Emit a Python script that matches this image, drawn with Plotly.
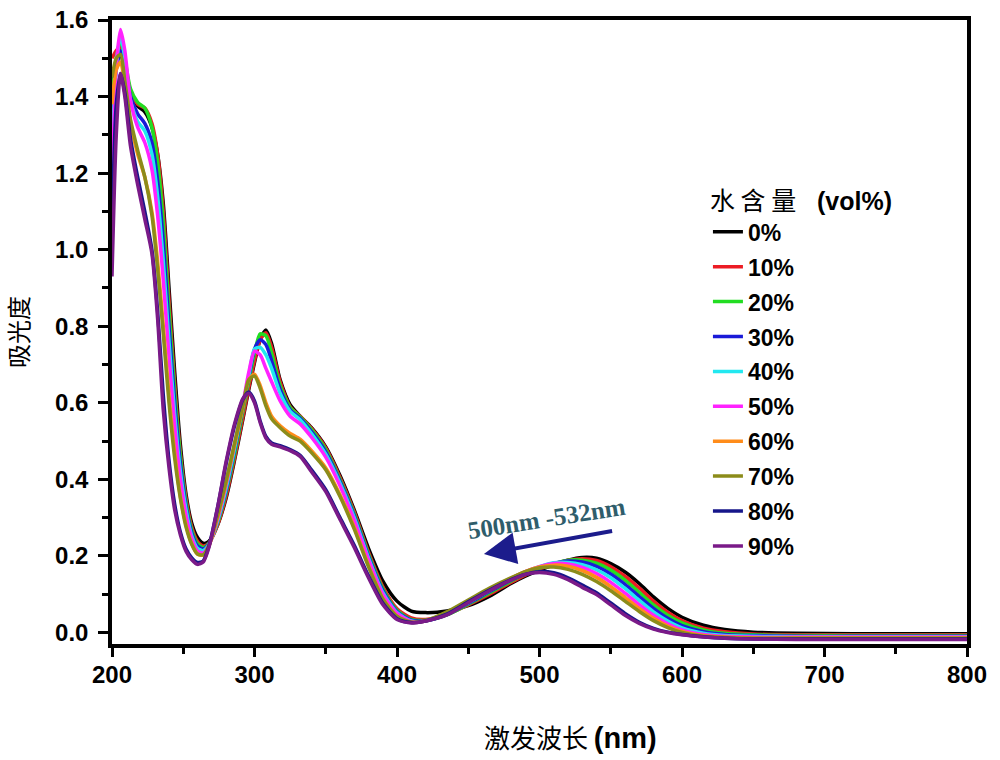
import plotly.graph_objects as go

# Wavelength grid (nm)
wavelength = [200, 203, 206, 209, 213, 218, 223, 228, 232, 236,
              240, 244, 248, 252, 256, 260, 264, 268, 274, 280,
              286, 292, 296, 300, 304, 308, 312, 318, 325, 332,
              340, 350, 360, 370, 380, 390, 400, 410, 420, 435,
              450, 465, 480, 490, 500, 510, 520, 530, 540, 550,
              560, 570, 580, 590, 600, 615, 630, 650, 680, 720,
              760, 800]

series_labels = ["0%", "10%", "20%", "30%", "40%", "50%", "60%", "70%", "80%", "90%"]

abs_0 = [1.42, 1.49, 1.51, 1.47, 1.41, 1.375, 1.36, 1.32, 1.25, 1.12,
         0.90, 0.68, 0.49, 0.36, 0.285, 0.248, 0.233, 0.238, 0.28, 0.35,
         0.45, 0.56, 0.635, 0.705, 0.765, 0.79, 0.755, 0.66, 0.595, 0.565,
         0.535, 0.485, 0.41, 0.32, 0.22, 0.135, 0.082, 0.056, 0.052, 0.056,
         0.07, 0.095, 0.128, 0.147, 0.163, 0.177, 0.189, 0.196, 0.194, 0.18,
         0.158, 0.128, 0.093, 0.063, 0.04, 0.019, 0.008, 0.001, -0.002, -0.003,
         -0.003, -0.003]
abs_10 = [1.50, 1.52, 1.53, 1.48, 1.415, 1.38, 1.37, 1.33, 1.25, 1.10,
          0.87, 0.65, 0.47, 0.35, 0.275, 0.238, 0.226, 0.234, 0.28, 0.355,
          0.455, 0.565, 0.64, 0.71, 0.765, 0.783, 0.745, 0.655, 0.59, 0.565,
          0.533, 0.482, 0.405, 0.315, 0.21, 0.12, 0.062, 0.038, 0.034, 0.047,
          0.072, 0.1, 0.131, 0.15, 0.166, 0.179, 0.189, 0.193, 0.188, 0.172,
          0.147, 0.116, 0.082, 0.053, 0.031, 0.011, 0.002, -0.004, -0.006, -0.006,
          -0.006, -0.006]
abs_20 = [1.40, 1.50, 1.55, 1.50, 1.42, 1.385, 1.37, 1.32, 1.23, 1.07,
          0.84, 0.63, 0.46, 0.34, 0.268, 0.232, 0.222, 0.233, 0.285, 0.365,
          0.465, 0.58, 0.655, 0.73, 0.78, 0.775, 0.73, 0.645, 0.588, 0.563,
          0.53, 0.478, 0.4, 0.31, 0.205, 0.115, 0.058, 0.034, 0.032, 0.046,
          0.074, 0.104, 0.134, 0.153, 0.168, 0.18, 0.189, 0.189, 0.181, 0.163,
          0.137, 0.105, 0.072, 0.045, 0.025, 0.007, -0.002, -0.006, -0.008, -0.008,
          -0.008, -0.008]
abs_30 = [1.32, 1.47, 1.52, 1.48, 1.40, 1.355, 1.33, 1.28, 1.18, 1.02,
          0.80, 0.60, 0.44, 0.33, 0.26, 0.226, 0.218, 0.232, 0.29, 0.37,
          0.475, 0.59, 0.665, 0.74, 0.765, 0.752, 0.71, 0.635, 0.582, 0.56,
          0.525, 0.472, 0.395, 0.305, 0.2, 0.11, 0.055, 0.032, 0.031, 0.047,
          0.076, 0.107, 0.137, 0.156, 0.17, 0.181, 0.187, 0.184, 0.173, 0.153,
          0.126, 0.094, 0.063, 0.037, 0.018, 0.002, -0.005, -0.008, -0.01, -0.01,
          -0.01, -0.01]
abs_40 = [1.25, 1.48, 1.56, 1.50, 1.39, 1.335, 1.31, 1.25, 1.14, 0.97,
          0.76, 0.57, 0.42, 0.32, 0.252, 0.22, 0.214, 0.23, 0.29, 0.375,
          0.48, 0.595, 0.67, 0.74, 0.745, 0.725, 0.69, 0.625, 0.578, 0.556,
          0.52, 0.466, 0.39, 0.3, 0.195, 0.105, 0.052, 0.03, 0.03, 0.048,
          0.078, 0.11, 0.14, 0.158, 0.172, 0.182, 0.183, 0.177, 0.164, 0.143,
          0.115, 0.084, 0.054, 0.03, 0.012, -0.002, -0.008, -0.01, -0.011, -0.011,
          -0.011, -0.011]
abs_50 = [1.15, 1.48, 1.575, 1.52, 1.39, 1.32, 1.28, 1.21, 1.09, 0.92,
          0.72, 0.54, 0.40, 0.305, 0.245, 0.213, 0.208, 0.228, 0.295, 0.385,
          0.49, 0.6, 0.68, 0.735, 0.725, 0.69, 0.655, 0.605, 0.565, 0.545,
          0.51, 0.458, 0.383, 0.293, 0.19, 0.1, 0.05, 0.029, 0.03, 0.05,
          0.08, 0.112, 0.141, 0.159, 0.172, 0.18, 0.179, 0.17, 0.154, 0.131,
          0.103, 0.073, 0.045, 0.023, 0.007, -0.005, -0.01, -0.012, -0.012, -0.012,
          -0.012, -0.012]
abs_60 = [1.38, 1.47, 1.49, 1.43, 1.33, 1.25, 1.19, 1.10, 0.97, 0.80,
          0.62, 0.47, 0.355, 0.28, 0.232, 0.205, 0.202, 0.225, 0.30, 0.39,
          0.49, 0.59, 0.66, 0.675, 0.645, 0.60, 0.565, 0.54, 0.52, 0.505,
          0.475, 0.43, 0.36, 0.275, 0.175, 0.09, 0.043, 0.027, 0.03, 0.052,
          0.082, 0.114, 0.142, 0.159, 0.171, 0.176, 0.173, 0.162, 0.144, 0.12,
          0.092, 0.063, 0.037, 0.017, 0.003, -0.008, -0.012, -0.014, -0.014, -0.014,
          -0.014, -0.014]
abs_70 = [1.45, 1.50, 1.51, 1.44, 1.34, 1.26, 1.19, 1.09, 0.95, 0.78,
          0.60, 0.455, 0.35, 0.275, 0.23, 0.205, 0.203, 0.228, 0.305, 0.395,
          0.495, 0.595, 0.66, 0.67, 0.638, 0.592, 0.558, 0.535, 0.513, 0.50,
          0.47, 0.425, 0.355, 0.27, 0.172, 0.088, 0.042, 0.027, 0.031, 0.054,
          0.085, 0.116, 0.143, 0.159, 0.169, 0.171, 0.165, 0.152, 0.133, 0.109,
          0.082, 0.055, 0.031, 0.013, 0.0, -0.01, -0.013, -0.015, -0.015, -0.015,
          -0.015, -0.015]
abs_80 = [1.05, 1.38, 1.46, 1.41, 1.29, 1.19, 1.10, 1.00, 0.84, 0.62,
          0.45, 0.335, 0.262, 0.218, 0.195, 0.183, 0.187, 0.225, 0.325, 0.44,
          0.54, 0.61, 0.628, 0.605, 0.552, 0.512, 0.495, 0.488, 0.478, 0.463,
          0.425, 0.373, 0.3, 0.228, 0.148, 0.077, 0.036, 0.026, 0.03, 0.048,
          0.08, 0.111, 0.138, 0.152, 0.159, 0.156, 0.143, 0.124, 0.104, 0.077,
          0.05, 0.027, 0.011, 0.001, -0.005, -0.011, -0.015, -0.017, -0.017, -0.017,
          -0.017, -0.017]
abs_90 = [0.93, 1.30, 1.46, 1.40, 1.27, 1.17, 1.08, 0.99, 0.82, 0.58,
          0.43, 0.32, 0.255, 0.212, 0.19, 0.178, 0.184, 0.222, 0.325, 0.445,
          0.545, 0.612, 0.625, 0.60, 0.548, 0.508, 0.492, 0.485, 0.475, 0.46,
          0.42, 0.368, 0.295, 0.222, 0.143, 0.073, 0.034, 0.025, 0.03, 0.046,
          0.078, 0.109, 0.137, 0.152, 0.157, 0.152, 0.138, 0.118, 0.099, 0.072,
          0.045, 0.024, 0.009, 0.0, -0.006, -0.012, -0.015, -0.017, -0.018, -0.018,
          -0.018, -0.018]

all_series = [abs_0, abs_10, abs_20, abs_30, abs_40, abs_50, abs_60, abs_70, abs_80, abs_90]
colors = ["#000000", "#ec1c24", "#22dd22", "#1a1ad8", "#22e8f0",
          "#ff22ff", "#ff8c1a", "#8c8c1a", "#16168a", "#7a1a88"]

x_ticks = [200, 300, 400, 500, 600, 700, 800]
y_ticks = [0.0, 0.2, 0.4, 0.6, 0.8, 1.0, 1.2, 1.4, 1.6]

fig = go.Figure()
for lab, ys, col in zip(series_labels, all_series, colors):
    fig.add_trace(go.Scatter(
        x=wavelength, y=ys, mode="lines", name=lab, legendgroup=lab,
        line=dict(color=col, width=3.5, shape="spline", smoothing=0.7),
    ))

tick_font = dict(family="Liberation Sans, Arial, sans-serif", size=24, color="black", weight="bold")
cjk = "Noto Sans CJK SC"

fig.update_layout(
    width=1000, height=760,
    margin=dict(l=112, r=33, t=20, b=116, autoexpand=False),
    paper_bgcolor="white", plot_bgcolor="white",
    showlegend=True,
    legend=dict(
        x=0.697, y=0.747, xanchor="left", yanchor="top",
        bgcolor="rgba(0,0,0,0)",
        font=dict(family="Liberation Sans, Arial, sans-serif", size=23, color="black", weight="bold"),
        title=dict(text="<span style='font-family:Noto Sans CJK SC;font-weight:normal'>水 含 量</span>   <b>(vol%)</b>",
                   font=dict(family="Liberation Sans, Arial, sans-serif", size=25, color="black")),
        tracegroupgap=2,
        itemwidth=30,
    ),
    xaxis=dict(
        range=[200, 800], tickvals=x_ticks, ticks="outside", ticklen=9, tickwidth=3,
        tickcolor="black", showline=True, linecolor="black", linewidth=3.5, mirror=True,
        showgrid=False, zeroline=False, tickfont=tick_font, ticklabelstandoff=-3, automargin=False,
        ticklabeloverflow="allow",
        minor=dict(dtick=50, ticks="outside", ticklen=6, tickwidth=3, tickcolor="black", showgrid=False),
    ),
    yaxis=dict(
        range=[-0.03, 1.6], tickvals=y_ticks, tickformat=".1f", ticks="outside", ticklen=10, tickwidth=3,
        tickcolor="black", showline=True, linecolor="black", linewidth=3.5, mirror=True,
        showgrid=False, zeroline=False, tickfont=tick_font, ticklabelstandoff=5, automargin=False,
        ticklabeloverflow="allow",
        minor=dict(dtick=0.1, ticks="outside", ticklen=6, tickwidth=3, tickcolor="black", showgrid=False),
        title=dict(text="吸光度", font=dict(family=cjk, size=24, color="black"), standoff=30),
    ),
    annotations=[
        dict(text="激发波长 <b><span style='font-family:Liberation Sans;font-size:29px'>(nm)</span></b>",
             xref="paper", yref="paper", x=0.536, y=-0.148, xanchor="center", yanchor="middle",
             showarrow=False, font=dict(family=cjk, size=26, color="black")),
        dict(x=461, y=0.205, ax=552, ay=0.266, xref="x", yref="y", axref="x", ayref="y",
             text="", showarrow=True, arrowhead=2, arrowsize=1.6, arrowwidth=4, arrowcolor="#1c1c8c"),
        dict(x=505, y=0.298, xref="x", yref="y", text="<b>500nm -532nm</b>", showarrow=False,
             textangle=-9, font=dict(family="Liberation Serif, Times New Roman, serif", size=25, color="#2f5d6b")),
    ],
)

# remove the browser's default 8px body margin so the 1000x760 figure fills the window exactly
fig.write_html("out.html", config={"displayModeBar": False},
               post_script="document.body.style.margin='0px';document.body.style.overflow='hidden';")
